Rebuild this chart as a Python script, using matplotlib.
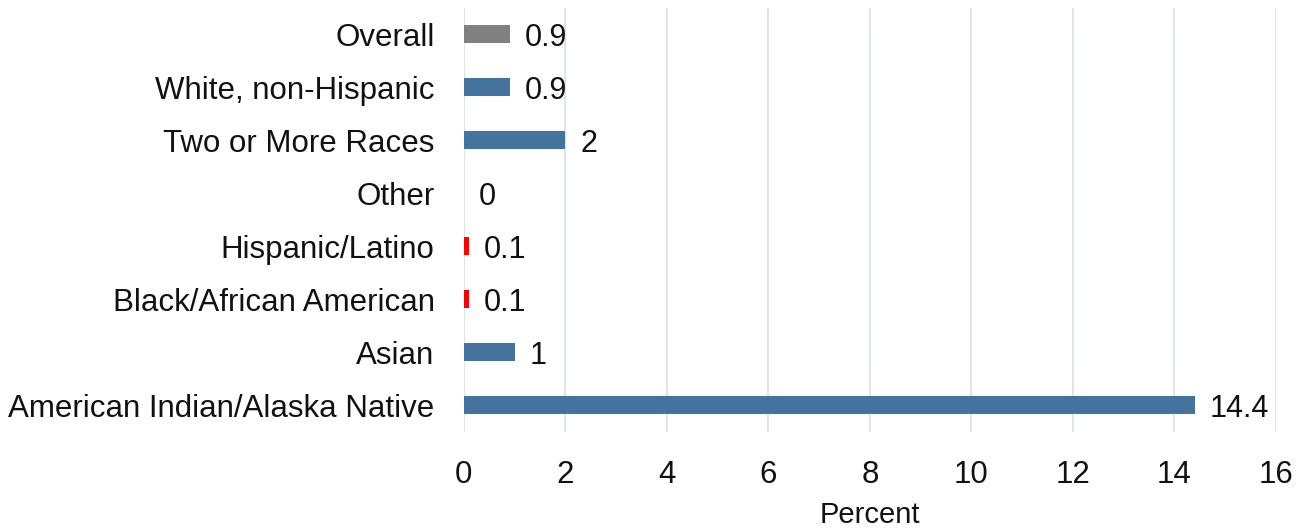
import matplotlib.pyplot as plt
import numpy as np

plt.rcParams['font.family'] = ['Liberation Sans', 'DejaVu Sans']

groups = ['Overall', 'White, non-Hispanic', 'Two or More Races', 'Other',
          'Hispanic/Latino', 'Black/African American', 'Asian',
          'American Indian/Alaska Native']
values = [0.9, 0.9, 2, 0, 0.1, 0.1, 1, 14.4]
value_labels = ['0.9', '0.9', '2', '0', '0.1', '0.1', '1', '14.4']

BLUE = '#44739e'
GRAY = '#808080'
RED = '#ff0000'
colors = [GRAY, BLUE, BLUE, BLUE, RED, RED, BLUE, BLUE]

fig = plt.figure(figsize=(13.14, 5.29), dpi=100)
ax = fig.add_axes([0.353, 0.1834, 0.618, 0.8016])

y = np.arange(len(groups))[::-1]
ax.barh(y, values, height=0.34, color=colors, zorder=2)

for yi, v, lab in zip(y, values, value_labels):
    ax.text(v + 0.3, yi, lab, va='center_baseline', ha='left', fontsize=22, color='#111111')

ax.set_xlim(0, 16)
ax.set_ylim(-0.5, len(groups) - 0.5)
ax.set_xticks(np.arange(0, 17, 2))
ax.set_yticks(y)
ax.set_yticklabels(groups)
ax.tick_params(axis='both', length=0, labelsize=22.5, colors='#111111')
ax.tick_params(axis='x', pad=20)
ax.tick_params(axis='y', pad=21)

ax.grid(axis='x', color='#dde6ef', lw=1.5, zorder=0)
ax.set_axisbelow(True)
for s in ax.spines.values():
    s.set_visible(False)

ax.set_xlabel('Percent', fontsize=21, color='#111111', labelpad=8)

fig.savefig('out.png', dpi=100)
